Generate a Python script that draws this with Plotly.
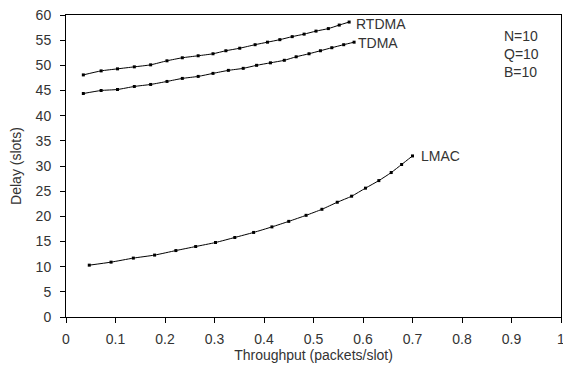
import plotly.graph_objects as go

rtdma_x = [0.035, 0.071, 0.104, 0.138, 0.171, 0.204, 0.235, 0.267, 0.297, 0.323,
           0.351, 0.382, 0.407, 0.432, 0.457, 0.481, 0.505, 0.530, 0.552, 0.572]
rtdma_y = [48.1, 48.9, 49.3, 49.7, 50.1, 50.9, 51.5, 51.9, 52.3, 52.9,
           53.4, 54.1, 54.6, 55.1, 55.7, 56.2, 56.8, 57.3, 58.0, 58.6]

tdma_x = [0.035, 0.071, 0.104, 0.138, 0.171, 0.204, 0.235, 0.267, 0.297, 0.328,
          0.358, 0.385, 0.413, 0.441, 0.465, 0.491, 0.514, 0.537, 0.561, 0.582]
tdma_y = [44.4, 45.0, 45.2, 45.8, 46.2, 46.8, 47.4, 47.8, 48.4, 49.0,
          49.4, 50.0, 50.5, 51.0, 51.7, 52.3, 52.9, 53.5, 54.1, 54.6]

lmac_x = [0.047, 0.091, 0.136, 0.179, 0.222, 0.262, 0.302, 0.341, 0.379, 0.416,
          0.450, 0.485, 0.517, 0.548, 0.577, 0.605, 0.632, 0.657, 0.678, 0.700]
lmac_y = [10.3, 10.9, 11.7, 12.3, 13.2, 14.0, 14.8, 15.8, 16.8, 17.9,
          19.0, 20.2, 21.4, 22.8, 24.0, 25.6, 27.1, 28.7, 30.3, 32.0]

x_ticks = [0, 0.1, 0.2, 0.3, 0.4, 0.5, 0.6, 0.7, 0.8, 0.9, 1]
x_tick_text = ["0", "0.1", "0.2", "0.3", "0.4", "0.5", "0.6", "0.7", "0.8", "0.9", "1"]
y_ticks = [0, 5, 10, 15, 20, 25, 30, 35, 40, 45, 50, 55, 60]

series_names = ["RTDMA", "TDMA", "LMAC"]
series = [(series_names[0], rtdma_x, rtdma_y), (series_names[1], tdma_x, tdma_y),
          (series_names[2], lmac_x, lmac_y)]
param_text = ["N=10", "Q=10", "B=10"]

FONT = "Liberation Sans, Arial, sans-serif"
TXT = "#333333"

fig = go.Figure()
for name, xs, ys in series:
    fig.add_trace(go.Scatter(
        x=xs, y=ys, mode="lines+markers", name=name,
        line=dict(color="black", width=1, shape="spline", smoothing=0.6),
        marker=dict(symbol="square", size=3, color="black"),
    ))

label_offsets = {"RTDMA": (5, -2), "TDMA": (2, -1), "LMAC": (6, 0)}
for name, xs, ys in series:
    dx, dy = label_offsets[name]
    fig.add_annotation(x=xs[-1], y=ys[-1], text=name, showarrow=False, xanchor="left",
                       yanchor="middle", xshift=dx, yshift=dy,
                       font=dict(family=FONT, size=14, color=TXT))

fig.add_annotation(x=0.88, y=52.3, text="<br>".join(param_text), showarrow=False,
                   xanchor="left", yanchor="middle", align="left",
                   font=dict(family=FONT, size=14, color=TXT))

fig.update_layout(
    width=563, height=369,
    margin=dict(l=66, r=2, t=15, b=52, autoexpand=False),
    paper_bgcolor="white", plot_bgcolor="white",
    showlegend=False,
    font=dict(family=FONT, size=14, color=TXT),
)
fig.update_xaxes(
    range=[0, 1], tickvals=x_ticks, ticktext=x_tick_text,
    showgrid=False, zeroline=False, automargin=False,
    showline=True, linecolor="black", linewidth=1, mirror=True,
    ticks="outside", ticklen=5, tickcolor="black",
    ticklabelstandoff=4, ticklabeloverflow="allow",
    title=dict(text="Throughput (packets/slot)", standoff=3, font=dict(size=14)),
    tickfont=dict(size=14),
)
fig.update_yaxes(
    range=[0, 60], tickvals=y_ticks,
    showgrid=False, zeroline=False, automargin=False,
    showline=True, linecolor="black", linewidth=1, mirror=True,
    ticks="outside", ticklen=5, tickcolor="black",
    ticklabelstandoff=6, ticklabeloverflow="allow",
    title=dict(text="Delay (slots)", standoff=10, font=dict(size=14)),
    tickfont=dict(size=14),
)

fig.write_html(
    "out.html",
    config={"displayModeBar": False},
    post_script="document.body.style.margin='0';document.body.style.overflow='hidden';",
)
